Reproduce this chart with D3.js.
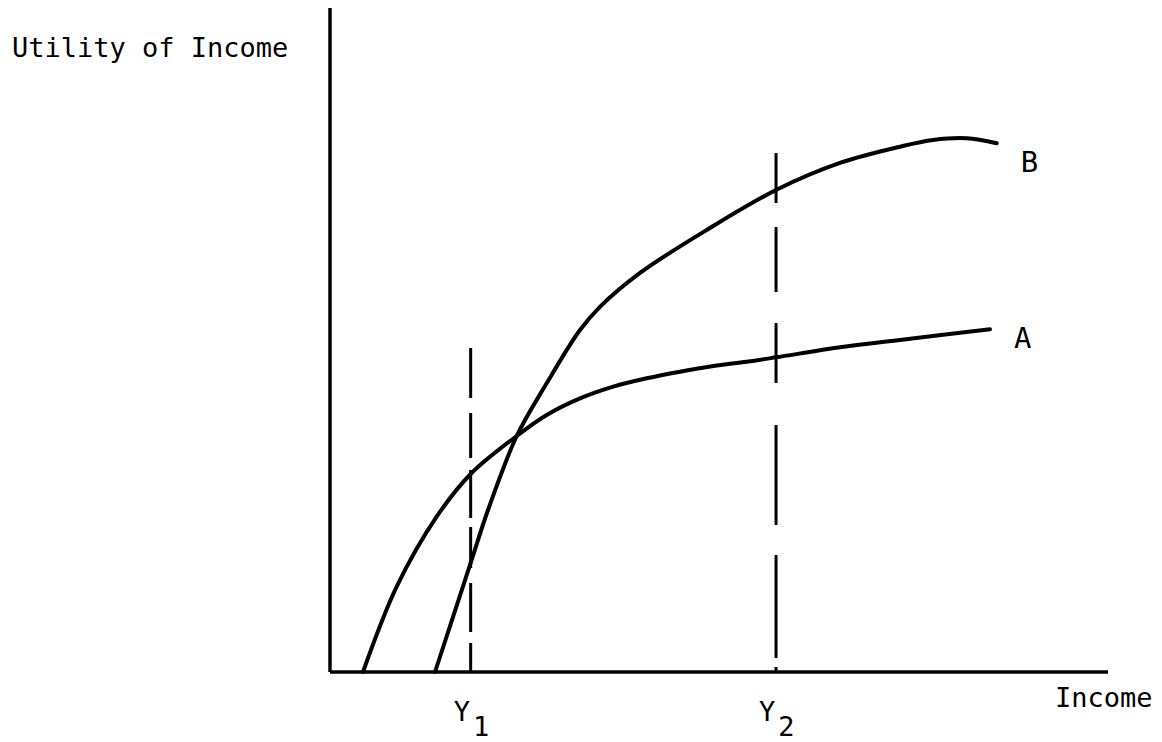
<!DOCTYPE html>
<html>
<head>
<meta charset="utf-8">
<script src="https://cdn.jsdelivr.net/npm/d3@7"></script>
<style>
  html, body { margin: 0; padding: 0; background: #fff; }
  svg { display: block; }
  text { font-family: "DejaVu Sans Mono", "Liberation Mono", monospace; fill: #000; }
</style>
</head>
<body>
<svg id="chart" width="1162" height="742"></svg>
<script>
// Utility-of-income curves (income and utility in arbitrary units, 0–100)
const incomeA  = [4.24, 8.57, 13.71, 18.08, 24.0, 27.85, 32.13, 36.41, 40.71, 44.99, 49.27, 53.56, 57.33, 65.55, 73.26, 84.83];
const utilityA = [0, 12.85, 23.39, 29.82, 35.54, 38.7, 41.2, 42.97, 44.23, 45.23, 46.08, 46.73, 47.39, 48.9, 50.0, 51.61];

const incomeB  = [13.5, 18.08, 20.31, 24.0, 27.85, 32.13, 34.7, 39.85, 48.42, 57.33, 65.55, 73.26, 77.51, 81.84, 85.69];
const utilityB = [0, 16.42, 24.4, 35.54, 43.48, 51.5, 55.0, 60.1, 66.57, 72.59, 76.66, 79.11, 80.12, 80.38, 79.62];

// Reference income levels with the height of their dashed guides
const markerNames   = ["1", "2"];
const markerIncome  = [18.08, 57.33];
const markerHeight  = [48.8, 78.2];

const curveNames = ["A", "B"];

const svg = d3.select("#chart");

const x = d3.scaleLinear().domain([0, 100]).range([330, 1108]);
const y = d3.scaleLinear().domain([0, 100]).range([672, 8]);

// Axes: plain vertical and horizontal rules meeting at the origin
const axisG = svg.append("g").attr("stroke", "#000").attr("stroke-width", 3.5).attr("fill", "none");
axisG.append("line")
  .attr("x1", x(0)).attr("x2", x(0))
  .attr("y1", y(100)).attr("y2", y(0));
axisG.append("line")
  .attr("x1", x(0)).attr("x2", x(100))
  .attr("y1", y(0)).attr("y2", y(0));

// Dashed verticals at Y1 and Y2 (drawn from the axis upward)
const dashes = [
  "29,11,49,15,41,9,48,12,45,15,50,200",
  "5,9,103,30,100,42,60,31,65,24,50,200"
];
markerIncome.forEach((m, i) => {
  svg.append("line")
    .attr("x1", x(m)).attr("x2", x(m))
    .attr("y1", y(0)).attr("y2", y(markerHeight[i]))
    .attr("stroke", "#000")
    .attr("stroke-width", 3)
    .attr("stroke-dasharray", dashes[i]);
});

// Curves
const line = d3.line()
  .x(d => x(d[0]))
  .y(d => y(d[1]))
  .curve(d3.curveCatmullRom.alpha(0.5));

const seriesA = incomeA.map((v, i) => [v, utilityA[i]]);
const seriesB = incomeB.map((v, i) => [v, utilityB[i]]);

[seriesA, seriesB].forEach(s => {
  svg.append("path")
    .attr("d", line(s))
    .attr("fill", "none")
    .attr("stroke", "#000")
    .attr("stroke-width", 4)
    .attr("stroke-linecap", "round");
});

// Curve labels
[seriesA, seriesB].forEach((s, i) => {
  const last = s[s.length - 1];
  svg.append("text")
    .attr("x", x(last[0]) + 24)
    .attr("y", i === 0 ? 348 : 172)
    .attr("font-size", 29)
    .text(curveNames[i]);
});

// Axis titles
svg.append("text")
  .attr("x", 12).attr("y", 57)
  .attr("font-size", 27)
  .text("Utility of Income");

svg.append("text")
  .attr("x", 1055).attr("y", 707)
  .attr("font-size", 27)
  .text("Income");

// Y1 / Y2 labels under the axis
markerIncome.forEach((m, i) => {
  const t = svg.append("text")
    .attr("x", x(m) - 17)
    .attr("y", 721)
    .attr("font-size", 27);
  t.append("tspan").text("Y");
  t.append("tspan")
    .attr("dx", 3)
    .attr("dy", 15)
    .attr("font-size", 27)
    .text(markerNames[i]);
});
</script>
</body>
</html>
